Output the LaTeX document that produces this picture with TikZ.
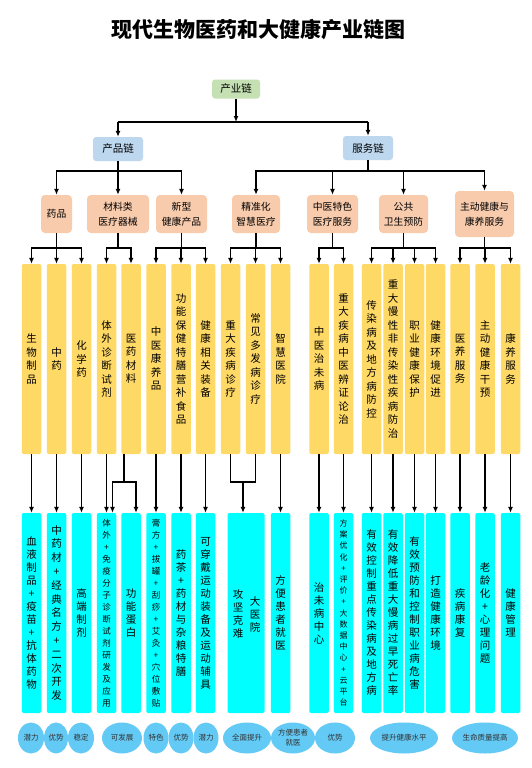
\documentclass[tikz,border=0pt]{standalone}
\usepackage{fontspec}
\newfontfamily\cjk{Noto Sans CJK SC}
\usetikzlibrary{arrows.meta,shapes.geometric,calc}
\definecolor{yel}{HTML}{FFD966}
\definecolor{cyn}{HTML}{00FFFF}
\definecolor{org}{HTML}{F8CBAD}
\definecolor{blu}{HTML}{BDD7EE}
\definecolor{grn}{HTML}{C5E0B3}
\definecolor{ell}{HTML}{63C9F5}
\def\vtEnd{vtEndMarker}
\newcommand\vtxt[1]{\vtA#1\vtEnd}
\def\vtA#1{#1\vtB}
\def\vtB#1{\ifx#1\vtEnd\else\\#1\expandafter\vtB\fi}
\tikzset{
  arr/.style={-{Latex[length=6pt,width=5pt]}, line width=1.2pt},
  ln/.style={line width=1.2pt},
  lvltop/.style={fill=grn, rounded corners=3pt, minimum width=48pt, minimum height=19pt, inner sep=0pt, font=\cjk\fontsize{10.5}{13}\selectfont},
  lvltwo/.style={fill=blu, rounded corners=3pt, minimum width=50pt, minimum height=24pt, inner sep=0pt, font=\cjk\fontsize{10.5}{13}\selectfont},
  lvlthree/.style={fill=org, rounded corners=4pt, minimum height=38pt, inner sep=0pt, align=center, font=\cjk\fontsize{9.8}{15}\selectfont},
  ybox/.style={fill=yel, rounded corners=2pt, minimum width=19.5pt, minimum height=190pt, inner sep=0pt, align=center, font=\cjk\fontsize{10.5}{13.5}\selectfont},
  cbox/.style={fill=cyn, rounded corners=2pt, minimum width=19.5pt, minimum height=200pt, inner sep=0pt, align=center, font=\cjk\fontsize{10.5}{13}\selectfont},
  csmall/.style={font=\cjk\fontsize{8.5}{12}\selectfont},
  ctiny/.style={font=\cjk\fontsize{8}{11.2}\selectfont},
  ctxt/.style={inner sep=0pt, align=center, font=\cjk\fontsize{10.5}{13}\selectfont},
  ellnode/.style={ellipse, fill=ell, minimum height=31pt, inner sep=0pt, align=center, text=black!80, font=\cjk\fontsize{7.5}{10}\selectfont}
}
\begin{document}
\begin{tikzpicture}[x=1pt,y=-1pt]
\useasboundingbox (0,0) rectangle (532,768);
\fill[white] (0,0) rectangle (532,768);
\node[font=\cjk\bfseries\fontsize{21}{24}\selectfont] (title) at (258,30) {现代生物医药和大健康产业链图};

% bus levels
\coordinate (bus1) at (0,122);
\coordinate (bus2) at (0,171);
\coordinate (bus3) at (0,248);
\coordinate (bus4) at (0,482);

% level 1, 2
\node[lvltop] (top) at (236,89) {产业链};
\node[lvltwo] (prod) at (118,149) {产品链};
\node[lvltwo] (serv) at (368,148) {服务链};

% level 3
\node[lvlthree, minimum width=31pt] (la) at (56.5,214) {药品};
\node[lvlthree, minimum width=62pt] (lb) at (118,214) {材料类\\医疗器械};
\node[lvlthree, minimum width=51pt] (lc) at (181.5,214) {新型\\健康产品};
\node[lvlthree, minimum width=48pt] (ld) at (256,214) {精准化\\智慧医疗};
\node[lvlthree, minimum width=51pt] (le) at (332.5,214) {中医特色\\医疗服务};
\node[lvlthree, minimum width=49pt] (lf) at (403.5,214) {公共\\卫生预防};
\node[lvlthree, minimum width=59pt, minimum height=46pt] (lg) at (484.5,214) {主动健康与\\康养服务};

% yellow
\node[ybox] (y1) at (31.5,359) {\vtxt{生物制品}};
\node[ybox] (y2) at (56.5,359) {\vtxt{中药}};
\node[ybox] (y3) at (81.5,359) {\vtxt{化学药}};
\node[ybox] (y4) at (106.5,359) {\vtxt{体外诊断试剂}};
\node[ybox] (y5) at (131,359) {\vtxt{医药材料}};
\node[ybox] (y6) at (156,359) {\vtxt{中医康养品}};
\node[ybox] (y7) at (181,359) {\vtxt{功能保健特膳营补食品}};
\node[ybox] (y8) at (205.5,359) {\vtxt{健康相关装备}};
\node[ybox] (y9) at (230.5,359) {\vtxt{重大疾病诊疗}};
\node[ybox] (y10) at (255.5,359) {\vtxt{常见多发病诊疗}};
\node[ybox] (y11) at (280.5,359) {\vtxt{智慧医院}};
\node[ybox] (y12) at (319,359) {\vtxt{中医治未病}};
\node[ybox] (y13) at (343.5,359) {\vtxt{重大疾病中医辨证论治}};
\node[ybox] (y14) at (371.5,359) {\vtxt{传染病及地方病防控}};
\node[ybox] (y15) at (393,359) {\vtxt{重大慢性非传染性疾病防治}};
\node[ybox] (y16) at (414.5,359) {\vtxt{职业健康保护}};
\node[ybox] (y17) at (435.5,359) {\vtxt{健康环境促进}};
\node[ybox] (y18) at (460,359) {\vtxt{医养服务}};
\node[ybox] (y19) at (485,359) {\vtxt{主动健康干预}};
\node[ybox] (y20) at (510.5,359) {\vtxt{康养服务}};

% cyan
\node[cbox] (c1) at (31.5,613) {\vtxt{血液制品+疫苗+抗体药物}};
\node[cbox, font=\cjk\fontsize{10.5}{13.8}\selectfont] (c2) at (56.5,613) {\vtxt{中药材+经典名方+二次开发}};
\node[cbox] (c3) at (81.5,613) {\vtxt{高端制剂}};
\node[cbox, csmall] (c4) at (106.5,613) {\vtxt{体外+免疫分子诊断试剂研发及应用}};
\node[cbox] (c5) at (131,613) {\vtxt{功能蛋白}};
\node[cbox, csmall] (c6) at (156,613) {\vtxt{膏方+拔罐+刮痧+艾灸+穴位敷贴}};
\node[cbox] (c7) at (181,613) {\vtxt{药茶+药材与杂粮特膳}};
\node[cbox] (c8) at (205.5,613) {\vtxt{可穿戴运动装备及运动辅具}};
\node[cbox, minimum width=37pt] (c9) at (246,613) {};
\node[ctxt] (c9a) at (238,614) {\vtxt{攻坚克难}};
\node[ctxt] (c9b) at (255,615) {\vtxt{大医院}};
\node[cbox] (c10) at (280.5,613) {\vtxt{方便患者就医}};
\node[cbox] (c11) at (319,613) {\vtxt{治未病中心}};
\node[cbox, ctiny] (c12) at (343.5,613) {\vtxt{方案优化+评价+大数据中心+云平台}};
\node[cbox] (c13) at (371.5,613) {\vtxt{有效控制重点传染病及地方病}};
\node[cbox] (c14) at (393,613) {\vtxt{有效降低重大慢病过早死亡率}};
\node[cbox] (c15) at (414.5,613) {\vtxt{有效预防和控制职业病危害}};
\node[cbox] (c16) at (435.5,613) {\vtxt{打造健康环境}};
\node[cbox] (c17) at (460,613) {\vtxt{疾病康复}};
\node[cbox] (c18) at (485,613) {\vtxt{老龄化+心理问题}};
\node[cbox] (c19) at (510.5,613) {\vtxt{健康管理}};

% ellipses
\node[ellnode, minimum width=26pt] (e1) at (31,738) {潜力};
\node[ellnode, minimum width=24pt] (e2) at (56,738) {优势};
\node[ellnode, minimum width=26pt] (e3) at (81,738) {稳定};
\node[ellnode, minimum width=40pt] (e4) at (122,738) {可发展};
\node[ellnode, minimum width=25pt] (e5) at (156,738) {特色};
\node[ellnode, minimum width=25pt] (e6) at (181,738) {优势};
\node[ellnode, minimum width=25pt] (e7) at (206,738) {潜力};
\node[ellnode, minimum width=48pt] (e8) at (247,738) {全面提升};
\node[ellnode, minimum width=44pt] (e9) at (293,738) {方便患者\\就医};
\node[ellnode, minimum width=40pt] (e10) at (335,738) {优势};
\node[ellnode, minimum width=68pt] (e11) at (404,738) {提升健康水平};
\node[ellnode, minimum width=66pt] (e12) at (485,738) {生命质量提高};

% connectors level 1 -> 2
\draw[arr] (top.south) -- (top.south |- bus1);
\draw[ln] (prod.north |- bus1) -- (serv.north |- bus1);
\draw[arr] (prod.north |- bus1) -- (prod.north);
\draw[arr] (serv.north |- bus1) -- (serv.north);

% level 2 -> 3
\foreach \c in {la,lb,lc} {\draw[arr] (prod.south) |- (\c.north |- bus2) -- (\c.north);}
\foreach \c in {ld,le,lf,lg} {\draw[arr] (serv.south) |- (\c.north |- bus2) -- (\c.north);}

% level 3 -> yellow
\foreach \p/\c in {la/y1,la/y2,la/y3,lb/y4,lb/y5,lc/y6,lc/y7,lc/y8,ld/y9,ld/y10,ld/y11,le/y12,le/y13,lf/y14,lf/y15,lf/y16,lf/y17,lg/y18,lg/y19,lg/y20}
  {\draw[arr] (\p.south) |- (\c.north |- bus3) -- (\c.north);}

% yellow -> cyan
\foreach \y/\c in {y1/c1,y2/c2,y3/c3,y4/c4,y6/c6,y7/c7,y8/c8,y11/c10,y12/c11,y13/c12,y14/c13,y15/c14,y16/c15,y17/c16,y18/c17,y19/c18,y20/c19}
  {\draw[arr] (\y.south) -- (\c.north);}
\coordinate (m5) at ([xshift=-7pt]y5.south);
\draw[arr] (m5) |- ([xshift=6pt]c4.north |- bus4) -- ([xshift=6pt]c4.north);
\draw[arr] (m5) |- ([xshift=5pt]c5.north |- bus4) -- ([xshift=5pt]c5.north);
\coordinate (m9) at ($(y9.south)!0.5!(y10.south)$);
\draw[ln] (y9.south) |- (m9 |- bus4) -| (y10.south);
\draw[arr] (m9 |- bus4) -- (m9 |- c9.north);
\end{tikzpicture}
\end{document}
